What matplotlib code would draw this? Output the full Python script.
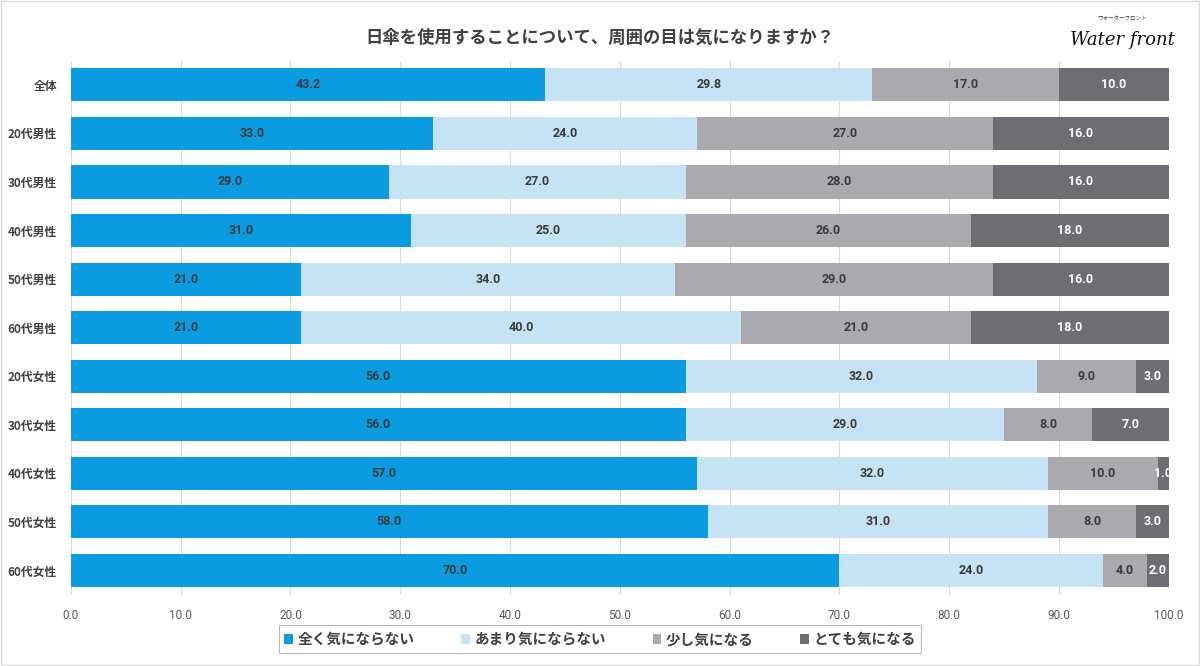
import matplotlib
matplotlib.use("Agg")
import matplotlib.pyplot as plt
from matplotlib.patches import Rectangle

plt.rcParams['font.family'] = ['Noto Sans CJK JP', 'DejaVu Sans']

title = "日傘を使用することについて、周囲の目は気になりますか？"
categories = ["全体", "20代男性", "30代男性", "40代男性", "50代男性", "60代男性",
              "20代女性", "30代女性", "40代女性", "50代女性", "60代女性"]
series_names = ["全く気にならない", "あまり気にならない", "少し気になる", "とても気になる"]
s1 = [43.2, 33.0, 29.0, 31.0, 21.0, 21.0, 56.0, 56.0, 57.0, 58.0, 70.0]
s2 = [29.8, 24.0, 27.0, 25.0, 34.0, 40.0, 32.0, 29.0, 32.0, 31.0, 24.0]
s3 = [17.0, 27.0, 28.0, 26.0, 29.0, 21.0, 9.0, 8.0, 10.0, 8.0, 4.0]
s4 = [10.0, 16.0, 16.0, 18.0, 16.0, 18.0, 3.0, 7.0, 1.0, 3.0, 2.0]
x_ticks = [0, 10, 20, 30, 40, 50, 60, 70, 80, 90, 100]

colors = ["#0A9BE0", "#C5E3F5", "#A9A9AE", "#6E6D72"]
label_colors = ["#3a3a3a", "#3a3a3a", "#3a3a3a", "white"]

fig = plt.figure(figsize=(12, 6.66), dpi=100)
ax = fig.add_axes([0.059, 0.107, 0.915, 0.802])

series = [s1, s2, s3, s4]
y = list(range(len(categories)))
left = [0.0] * len(categories)
for vals, col, lc, name in zip(series, colors, label_colors, series_names):
    ax.barh(y, vals, left=left, height=0.68, color=col, label=name, zorder=2)
    for yi, v, l in zip(y, vals, left):
        ax.text(l + v / 2, yi, f"{v:.1f}", ha='center', va='center',
                fontsize=9, fontweight='bold', color=lc, zorder=3, clip_on=True,
                family=['Roboto', 'DejaVu Sans'])
    left = [a + b for a, b in zip(left, vals)]

ax.set_xlim(0, 100)
ax.set_ylim(len(categories) - 0.5, -0.5)
ax.set_yticks(y)
ax.set_yticklabels(categories, fontsize=8.5, fontweight='bold', color='#404040')
ax.set_xticks(x_ticks)
ax.set_xticklabels([f"{t:.1f}" for t in x_ticks], fontsize=8.5, color='#595959',
                   family=['Roboto', 'DejaVu Sans'])
ax.tick_params(axis='both', length=0, pad=10)
ax.grid(axis='x', color='#d9d9d9', linewidth=0.8, zorder=0)
for sp in ax.spines.values():
    sp.set_visible(False)

fig.text(0.5, 0.944, title, ha='center', va='center', fontsize=12.5,
         fontweight='bold', color='#404040')

# logo
fig.text(0.935, 0.972, "ウォーターフロント", ha='center', va='center', fontsize=4, color='#333333')
fig.text(0.935, 0.940, "Water front", ha='center', va='center', fontsize=13,
         family=['DejaVu Serif'], style='italic', color='#111111')

leg = fig.legend(loc='center', bbox_to_anchor=(0.5, 0.0405), ncol=4, frameon=True,
                 fontsize=10.5, handlelength=0.6, handleheight=0.6, handletextpad=0.3,
                 columnspacing=3.2, borderpad=0.4, borderaxespad=0, fancybox=False)
leg.get_frame().set_edgecolor('#a6a6a6')
leg.get_frame().set_linewidth(0.8)
for t in leg.get_texts():
    t.set_color('#404040')
    t.set_fontweight('bold')

fig.patches.append(Rectangle((0.001, 0.001), 0.998, 0.998, transform=fig.transFigure,
                             fill=False, edgecolor='#d9d9d9', linewidth=1))

fig.savefig("out.png", dpi=100)
